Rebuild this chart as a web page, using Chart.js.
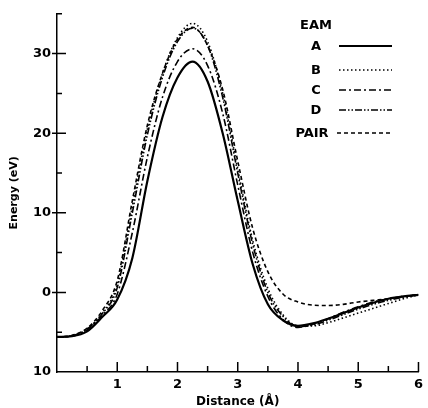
<!DOCTYPE html>
<html>
<head>
<meta charset="utf-8">
<script src="https://cdn.jsdelivr.net/npm/chart.js@4"></script>
<style>
  html, body { margin: 0; padding: 0; background: #fff; }
  #box { width: 428px; height: 408px; }
</style>
</head>
<body>
<div id="box"><canvas id="energy" width="428" height="408"></canvas></div>
<script>
let distance=[0,0.25,0.5,0.75,1,1.25,1.5,1.75,2,2.25,2.5,2.75,3,3.25,3.5,3.75,4,4.25,4.5,4.75,5,5.25,5.5,5.75,6];
let energyA=[-5.6,-5.5,-4.9,-3.1,-0.9,4.3,14.0,22.0,27.0,29.0,26.5,20.0,11.5,3.5,-1.5,-3.5,-4.2,-3.9,-3.3,-2.6,-1.9,-1.3,-0.8,-0.5,-0.3];
let energyB=[-5.6,-5.45,-4.6,-2.6,1.0,10.8,20.5,27.5,32.0,33.8,31.5,25.0,15.5,6.5,0.5,-2.8,-4.2,-4.2,-3.8,-3.2,-2.6,-2.0,-1.4,-0.8,-0.3];
let energyC=[-5.6,-5.5,-4.7,-2.9,-0.2,7.5,17.0,24.5,29.0,30.6,28.5,22.5,13.5,5.0,-0.5,-3.4,-4.4,-4.0,-3.3,-2.5,-1.8,-1.2,-0.8,-0.5,-0.3];
let energyD=[-5.6,-5.45,-4.6,-2.7,0.6,10.0,19.8,27.0,31.5,33.2,31.0,24.5,15.0,6.0,0.0,-3.0,-4.3,-4.1,-3.5,-2.8,-2.1,-1.5,-1.0,-0.6,-0.3];
let energyPair=[-5.6,-5.4,-4.5,-2.3,1.5,11.5,21.0,27.5,31.8,33.3,31.0,25.5,16.5,8.0,2.6,-0.2,-1.2,-1.6,-1.65,-1.5,-1.2,-1.0,-0.8,-0.5,-0.3];
let seriesNames=['A','B','C','D','PAIR'];
let xTickValues=[1,2,3,4,5,6];
let yTickValues=[-10,0,10,20,30];

Chart.defaults.font.family='"DejaVu Sans", sans-serif';
Chart.defaults.font.weight='bold';
Chart.defaults.font.size=13;
Chart.defaults.color='#000';

function points(ys){
    return distance.map((d,i)=>({x:d,y:ys[i]}));
}

// tick marks drawn on the inside of the axes, like the printed figure
let axisTicks={
    id:'axisTicks',
    afterDraw(chart){
        let ctx=chart.ctx;
        let xs=chart.scales.x, ys=chart.scales.y;
        let x0=xs.getPixelForValue(0), y0=ys.getPixelForValue(-10);
        ctx.save();
        ctx.strokeStyle='#000';
        ctx.lineWidth=1.5;
        ctx.beginPath();
        for(let v=0.5;v<=6;v+=0.5){
            let px=xs.getPixelForValue(v);
            let len=(v%1===0)?10:6;
            ctx.moveTo(px,y0);
            ctx.lineTo(px,y0-len);
        }
        for(let v=-5;v<=35;v+=5){
            let py=ys.getPixelForValue(v);
            if(v%10===0){
                ctx.moveTo(x0-5,py);
                ctx.lineTo(x0+9,py);
            }else{
                ctx.moveTo(x0,py);
                ctx.lineTo(x0+5,py);
            }
        }
        ctx.stroke();
        ctx.restore();
    }
};

// legend: label on the left, line sample on the right
let sideLegend={
    id:'sideLegend',
    afterDraw(chart){
        let ctx=chart.ctx;
        ctx.save();
        ctx.fillStyle='#000';
        ctx.font='bold 13px "DejaVu Sans", sans-serif';
        ctx.textAlign='center';
        ctx.textBaseline='middle';
        ctx.fillText('EAM',316,26);
        let rows=[47,71,91,111,134];
        chart.data.datasets.forEach((ds,i)=>{
            let y=rows[i];
            let tx=ds.label==='PAIR'?312:316;
            ctx.fillText(ds.label,tx,y);
            ctx.beginPath();
            ctx.setLineDash(ds.borderDash||[]);
            ctx.lineWidth=ds.borderWidth;
            ctx.strokeStyle='#000';
            ctx.moveTo(ds.label==='PAIR'?337:339,y-1);
            ctx.lineTo(392,y-1);
            ctx.stroke();
        });
        ctx.restore();
    }
};

let dashes=[[],[1.5,2.5],[7,3,2,3],[7,2,1.5,2,1.5,2],[4,3]];
let widths=[2.2,1.6,1.6,1.6,1.6];
let allEnergy=[energyA,energyB,energyC,energyD,energyPair];

let ctx1=document.getElementById('energy').getContext('2d');
let chart1=new Chart(ctx1,{
    type:'line',
    data:{
        datasets:seriesNames.map((name,i)=>({
            label:name,
            data:points(allEnergy[i]),
            borderColor:'#000',
            borderWidth:widths[i],
            borderDash:dashes[i],
            pointRadius:0,
            fill:false,
            cubicInterpolationMode:'monotone'
        }))
    },
    options:{
        responsive:false,
        animation:false,
        devicePixelRatio:1,
        layout:{padding:{top:12,right:5,left:0,bottom:0}},
        plugins:{
            legend:{display:false},
            tooltip:{enabled:false}
        },
        scales:{
            x:{
                type:'linear',
                min:0,
                max:6,
                grid:{display:false,drawTicks:false},
                border:{display:true,color:'#000',width:1.5},
                afterBuildTicks:(s)=>{s.ticks=xTickValues.map(v=>({value:v}));},
                afterFit:(s)=>{s.height=36;},
                ticks:{padding:5,maxRotation:0,callback:(v)=>String(v)},
                title:{display:true,text:'Distance (Å)',font:{size:12,weight:'bold',lineHeight:1},padding:{top:0,bottom:0}}
            },
            y:{
                min:-10,
                max:35,
                grid:{display:false,drawTicks:false},
                border:{display:true,color:'#000',width:1.5},
                afterBuildTicks:(s)=>{s.ticks=yTickValues.map(v=>({value:v}));},
                afterFit:(s)=>{s.width=57;},
                ticks:{padding:6,callback:(v)=>String(Math.abs(v))},
                title:{display:true,text:'Energy (eV)',font:{size:11,weight:'bold'},padding:{top:8,bottom:0}}
            }
        }
    },
    plugins:[axisTicks,sideLegend]
});
</script>
</body>
</html>
